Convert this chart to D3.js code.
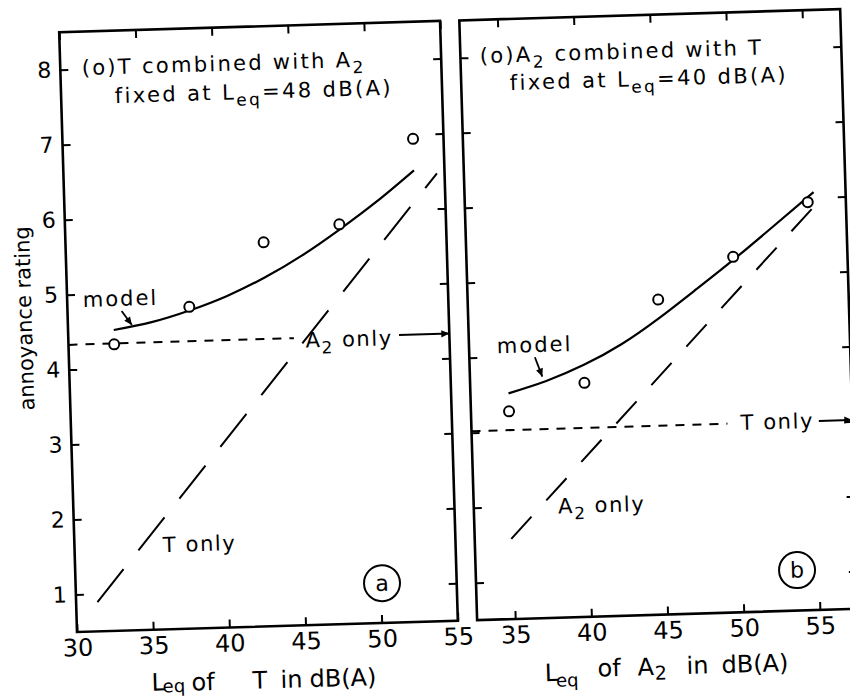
<!DOCTYPE html>
<html><head><meta charset="utf-8">
<script src="https://cdn.jsdelivr.net/npm/d3@7"></script>
<style>
body{margin:0;background:#fff}
svg{display:block}
text{font-family:"DejaVu Sans",sans-serif;fill:#000}
</style>
</head><body>
<svg id="c" width="850" height="697"></svg>
<script>
// ---------- data ----------
const yTicks = [1, 2, 3, 4, 5, 6, 7, 8];
const xTicksA = [30, 35, 40, 45, 50, 55];
const xTicksB = [35, 40, 45, 50, 55];

// panel (a): T combined with A2 fixed at 48 dB(A)
const obsAx = [33, 38, 43, 48, 53];
const obsAy = [4.32, 4.79, 5.62, 5.83, 6.94];
const modelAx = [33, 35.5, 38, 40.5, 43, 45.5, 48, 50.5, 53];
const modelAy = [4.51, 4.60, 4.74, 4.92, 5.15, 5.43, 5.76, 6.12, 6.52];
const tOnlyAx = [31.4, 54.5];
const tOnlyAy = [0.89, 6.47];
const a2OnlyLevelA = 4.33;

// panel (b): A2 combined with T fixed at 40 dB(A)
const obsBx = [35, 40, 45, 50, 55];
const obsBy = [3.27, 3.62, 4.70, 5.24, 5.94];
const modelBx = [35, 37.5, 40, 42.5, 45, 47.5, 50, 52.5, 55.4];
const modelBy = [3.51, 3.66, 3.86, 4.12, 4.45, 4.82, 5.20, 5.60, 6.07];
const a2OnlyBx = [34.9, 55.5];
const a2OnlyBy = [1.57, 5.90];
const tOnlyLevelB = 3.02;

// ---------- layout ----------
const svg = d3.select("#c");
const defs = svg.append("defs");
defs.append("marker").attr("id", "ah")
  .attr("viewBox", "0 0 10 10").attr("refX", 10).attr("refY", 5)
  .attr("markerWidth", 9).attr("markerHeight", 8)
  .attr("markerUnits", "userSpaceOnUse").attr("orient", "auto")
  .append("path").attr("d", "M0,0.5L10,5L0,9.5Z").attr("fill", "#000");

// the scanned figure is slightly rotated
const root = svg.append("g").attr("transform", "rotate(-1.7,77,632)");

const pTop = 32, pBottom = 632, pw = 381;
const y = d3.scaleLinear().domain([0.5, 8.5]).range([pBottom, pTop]);
const xA = d3.scaleLinear().domain([30, 55]).range([77, 77 + pw]);
const xB = d3.scaleLinear().domain([32.5, 57.5]).range([477.3, 477.3 + pw]);

function frame(g, x, xt, showY) {
  const [x0, x1] = x.range();
  g.append("rect").attr("x", x0).attr("y", pTop).attr("width", x1 - x0).attr("height", pBottom - pTop)
    .attr("fill", "none").attr("stroke", "#000").attr("stroke-width", 2.6);
  const style = sel => {
    sel.select(".domain").remove();
    sel.selectAll(".tick line").attr("stroke", "#000").attr("stroke-width", 2);
    sel.selectAll(".tick text").attr("fill", "#000").attr("font-family", '"DejaVu Sans",sans-serif');
  };
  g.append("g").attr("transform", `translate(0,${pBottom})`)
    .call(d3.axisBottom(x).tickValues(xt).tickSizeInner(-8).tickSizeOuter(0).tickPadding(7).tickFormat(d3.format("d")))
    .call(style).selectAll(".tick text").attr("font-size", 24);
  g.append("g").attr("transform", `translate(0,${pTop})`)
    .call(d3.axisTop(x).tickValues(xt).tickSizeInner(-8).tickSizeOuter(0).tickFormat(""))
    .call(style);
  g.append("g").attr("transform", `translate(${x0},0)`)
    .call(d3.axisLeft(y).tickValues(yTicks).tickSizeInner(-8).tickSizeOuter(0).tickPadding(9)
      .tickFormat(showY ? d3.format("d") : ""))
    .call(style).selectAll(".tick text").attr("font-size", 22);
  g.append("g").attr("transform", `translate(${x1},0)`)
    .call(d3.axisRight(y).tickValues(yTicks).tickSizeInner(-8).tickSizeOuter(0).tickFormat(""))
    .call(style);
}

// text helper: parts = [[string, isSub]]
function label(g, px, py, parts, size, spacing) {
  const t = g.append("text").attr("x", px).attr("y", py)
    .attr("font-size", size).attr("letter-spacing", spacing || 0);
  let shifted = false;
  parts.forEach(([s, sub]) => {
    const ts = t.append("tspan").text(s);
    if (sub && !shifted) { ts.attr("dy", size * 0.3).attr("font-size", size * 0.8); shifted = true; }
    else if (sub) { ts.attr("font-size", size * 0.8); }
    else if (!sub && shifted) { ts.attr("dy", -size * 0.3); shifted = false; }
  });
  return t;
}

function panel(x, xt, showY, d) {
  const g = root.append("g");
  frame(g, x, xt, showY);
  const line = d3.line().x(p => x(p[0])).y(p => y(p[1]));

  // long-dashed single-source line
  g.append("path").datum(d.longX.map((v, i) => [v, d.longY[i]]))
    .attr("d", line).attr("fill", "none").attr("stroke", "#000")
    .attr("stroke-width", 2).attr("stroke-dasharray", d.longDash);

  // short-dashed fixed level
  g.append("path").datum([[x.domain()[0], d.level], [d.levelEnd, d.level]])
    .attr("d", line).attr("fill", "none").attr("stroke", "#000")
    .attr("stroke-width", 2).attr("stroke-dasharray", "9,8");
  g.append("path").datum([[d.arrowStart, d.level], [x.domain()[1], d.level]])
    .attr("d", line).attr("fill", "none").attr("stroke", "#000")
    .attr("stroke-width", 2).attr("marker-end", "url(#ah)");

  // model curve
  g.append("path").datum(d.modelX.map((v, i) => [v, d.modelY[i]]))
    .attr("d", line.curve(d3.curveNatural)).attr("fill", "none")
    .attr("stroke", "#000").attr("stroke-width", 2.2);
  line.curve(d3.curveLinear);

  // observations
  g.selectAll("circle.obs").data(d.obsX.map((v, i) => [v, d.obsY[i]])).join("circle")
    .attr("class", "obs").attr("cx", p => x(p[0])).attr("cy", p => y(p[1])).attr("r", 5)
    .attr("fill", "#fff").attr("stroke", "#000").attr("stroke-width", 2);

  // model arrow
  g.append("line")
    .attr("x1", x(d.mArrow[0])).attr("y1", y(d.mArrow[1]))
    .attr("x2", x(d.mArrow[2])).attr("y2", y(d.mArrow[3]))
    .attr("stroke", "#000").attr("stroke-width", 1.8).attr("marker-end", "url(#ah)");

  // labels
  const [x0] = x.range();
  label(g, x0 + d.t1[0], pTop + d.t1[1], d.title1, 21, 2.3);
  label(g, x0 + d.t2[0], pTop + d.t2[1], d.title2, 21, 2.4);
  label(g, x(d.modelLab[0]), y(d.modelLab[1]), [["model"]], 21, 2);
  label(g, x(d.levelLab[0]), y(d.levelLab[1]), d.levelText, 21, 1.6);
  label(g, x(d.longLab[0]), y(d.longLab[1]), d.longText, 21, 1.6);

  // panel letter
  g.append("circle").attr("cx", x(d.letter[0])).attr("cy", y(d.letter[1])).attr("r", 18)
    .attr("fill", "none").attr("stroke", "#000").attr("stroke-width", 2);
  g.append("text").attr("x", x(d.letter[0])).attr("y", y(d.letter[1]) + 7.5)
    .attr("text-anchor", "middle").attr("font-size", 22).text(d.letterText);

  // x-axis title
  const xt2 = g.append("text").attr("font-size", 24);
  d.xTitle.forEach(([s, dx, dyv, fs]) => {
    xt2.append("tspan").attr("x", x0 + dx).attr("y", 694 + dyv).attr("font-size", fs).text(s);
  });
  return g;
}

panel(xA, xTicksA, true, {
  longX: tOnlyAx, longY: tOnlyAy, longDash: "42,24",
  level: a2OnlyLevelA, levelEnd: 44.8, arrowStart: 51.7,
  modelX: modelAx, modelY: modelAy, obsX: obsAx, obsY: obsAy,
  mArrow: [33.55, 4.76, 34.2, 4.57],
  t1: [21.5, 43.4], t2: [53.7, 72.3],
  title1: [["(o)T combined with A"], ["2", true]],
  title2: [["fixed at L"], ["eq", true], ["=48 dB(A)"]],
  modelLab: [31.03, 4.83],
  levelLab: [45.55, 4.2], levelText: [["A"], ["2", true], [" only"]],
  longLab: [35.8, 1.53], longText: [["T only"]],
  letter: [50.1, 1.03], letterText: "a",
  xTitle: [["L", 73, -1, 24], ["eq", 84, 1, 18], ["of", 113, 0, 24], ["T", 174, 0, 24], ["in", 202, 0, 24], ["dB(A)", 231, 0, 24]]
});

panel(xB, xTicksB, false, {
  longX: a2OnlyBx, longY: a2OnlyBy, longDash: "30,22",
  level: tOnlyLevelB, levelEnd: 49.3, arrowStart: 55.3,
  modelX: modelBx, modelY: modelBy, obsX: obsBx, obsY: obsBy,
  mArrow: [36.8, 3.98, 37.25, 3.72],
  t1: [19.4, 43.2], t2: [48.6, 71.1],
  title1: [["(o)A"], ["2", true], [" combined with T"]],
  title2: [["fixed at L"], ["eq", true], ["=40 dB(A)"]],
  modelLab: [34.33, 4.05],
  levelLab: [50.16, 2.93], levelText: [["T only"]],
  longLab: [38.03, 1.89], longText: [["A"], ["2", true], [" only"]],
  letter: [53.58, 1.04], letterText: "b",
  xTitle: [["L", 66, 1, 24], ["eq", 77, 7, 18], ["of", 119, -2, 24], ["A", 159, -2, 24], ["2", 176, 3, 19], ["in", 208, -2, 24], ["dB(A)", 243, -2, 24]]
});

// y-axis title
root.append("text").attr("transform", "translate(41,317) rotate(-90)")
  .attr("text-anchor", "middle").attr("font-size", 21).text("annoyance rating");
</script>
</body></html>
